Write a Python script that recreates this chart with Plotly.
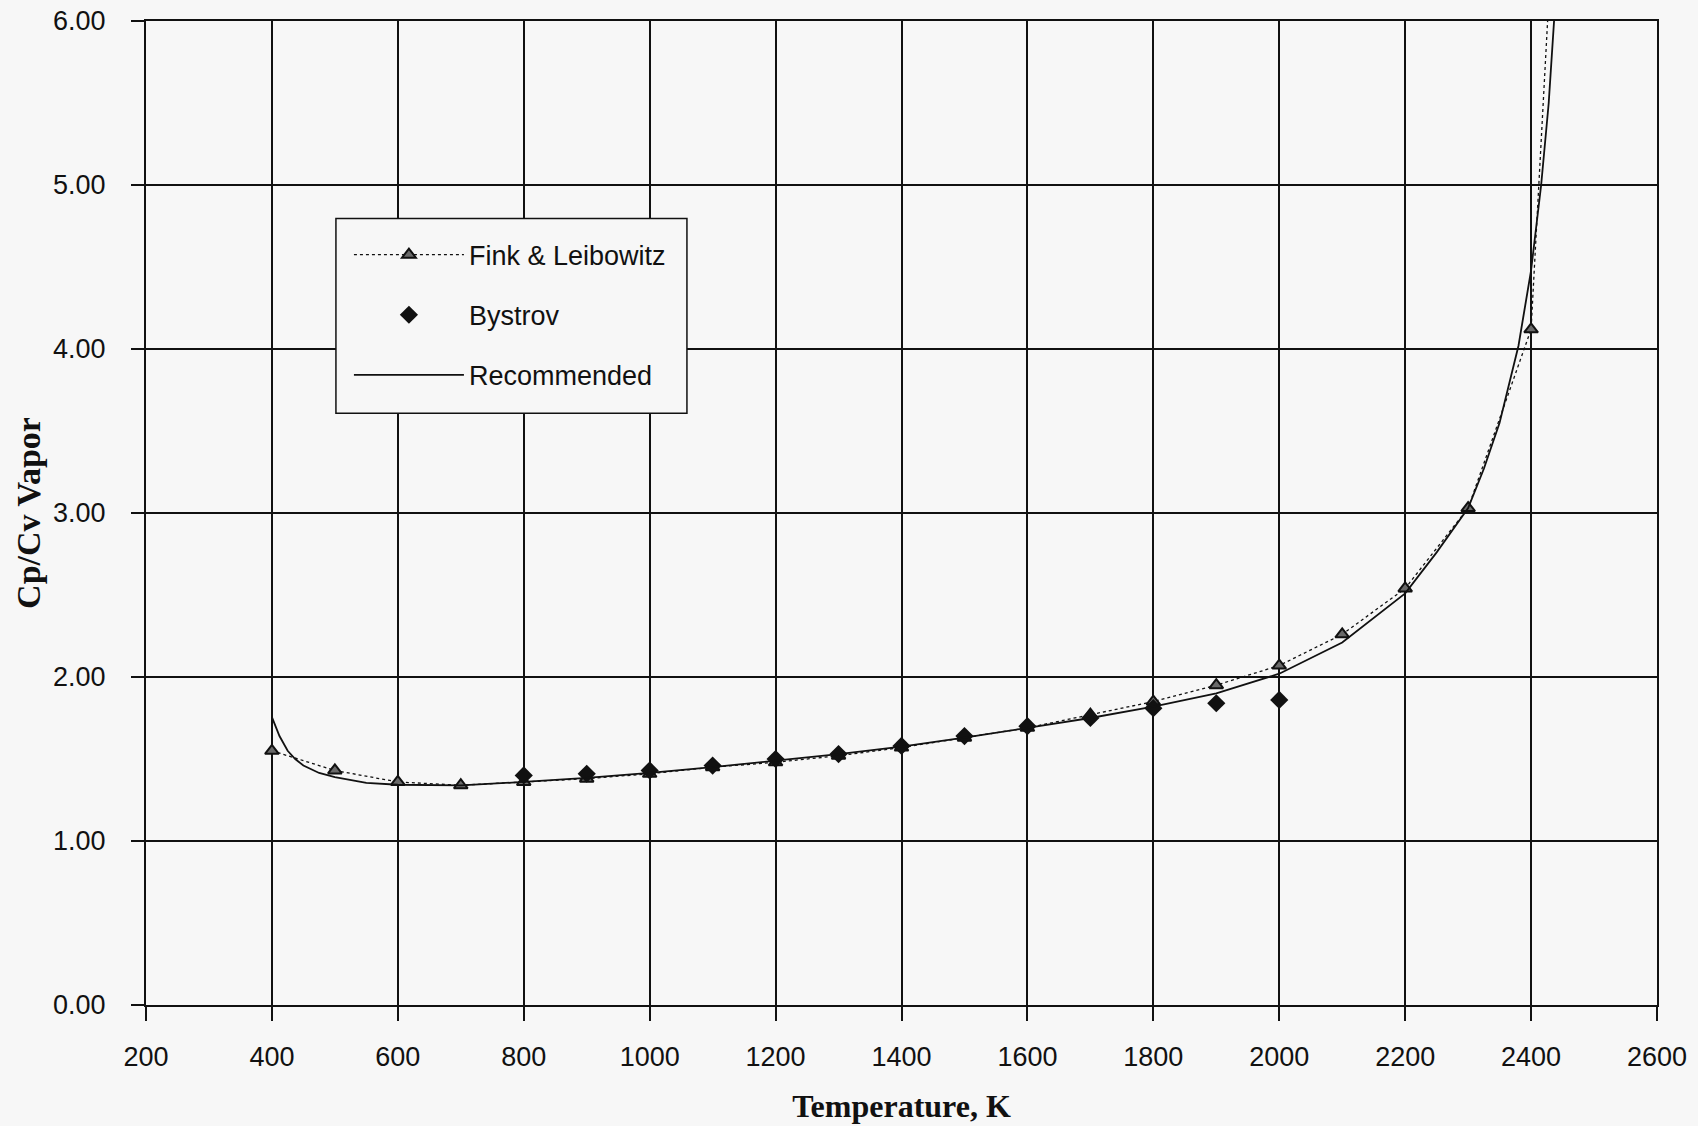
import plotly.graph_objects as go

# ---- data ----
fink_T = [400, 500, 600, 700, 800, 900, 1000, 1100, 1200, 1300, 1400, 1500,
          1600, 1700, 1800, 1900, 2000, 2100, 2200, 2300, 2400, 2450]
fink_g = [1.55, 1.43, 1.36, 1.34, 1.36, 1.38, 1.41, 1.45, 1.48, 1.52, 1.57, 1.63,
          1.69, 1.77, 1.85, 1.95, 2.07, 2.26, 2.54, 3.03, 4.12, 7.7]

bys_T = [800, 900, 1000, 1100, 1200, 1300, 1400, 1500, 1600, 1700, 1800, 1900, 2000]
bys_g = [1.40, 1.41, 1.43, 1.46, 1.50, 1.53, 1.58, 1.64, 1.70, 1.75, 1.81, 1.84, 1.86]

rec_T = [400, 412, 425, 437, 450, 475, 500, 550, 600, 700, 800, 900, 1000, 1100, 1200,
         1300, 1400, 1500, 1600, 1700, 1800, 1900, 2000, 2100, 2200, 2250, 2300, 2325,
         2350, 2365, 2380, 2400, 2416, 2428, 2437, 2445]
rec_g = [1.755, 1.64, 1.55, 1.50, 1.46, 1.415, 1.39, 1.355, 1.343, 1.339, 1.36, 1.385,
         1.415, 1.45, 1.49, 1.53, 1.575, 1.63, 1.69, 1.75, 1.82, 1.90, 2.02, 2.21, 2.51,
         2.76, 3.03, 3.27, 3.55, 3.78, 4.02, 4.48, 5.0, 5.5, 6.0, 6.5]

x_ticks = list(range(200, 2601, 200))
y_ticks = [0, 1, 2, 3, 4, 5, 6]

BG = "#f7f7f7"
INK = "#111111"

fig = go.Figure()
fig.add_trace(go.Scatter(
    x=fink_T, y=fink_g, name="Fink & Leibowitz", mode="lines+markers",
    legendgroup="a",
    line=dict(color=INK, width=1.3, dash="dot"),
    marker=dict(symbol="triangle-up", size=12, color="#6a6a6a",
                line=dict(color=INK, width=2)),
))
fig.add_trace(go.Scatter(
    x=bys_T, y=bys_g, name="Bystrov", mode="markers",
    legendgroup="b",
    marker=dict(symbol="diamond", size=14, color=INK, line=dict(width=0)),
))
fig.add_trace(go.Scatter(
    x=rec_T, y=rec_g, name="Recommended", mode="lines",
    legendgroup="c",
    line=dict(color=INK, width=1.8),
))

sans = "Liberation Sans, Arial, sans-serif"
serif = "Liberation Serif, Times New Roman, serif"
tick_font = dict(family=sans, size=27, color=INK)

# legend frame (drawn as a box in paper coordinates)
fig.add_shape(type="rect", xref="paper", yref="paper",
              x0=0.1257, x1=0.358, y0=0.6013, y1=0.7994,
              fillcolor=BG, line=dict(color=INK, width=1.5), layer="above")

fig.update_layout(
    width=1698, height=1126,
    margin=dict(l=146, r=41, t=21, b=121, autoexpand=False),
    paper_bgcolor=BG, plot_bgcolor=BG,
    showlegend=True,
    legend=dict(
        x=0.1343, y=0.787, xanchor="left", yanchor="top",
        bgcolor="rgba(0,0,0,0)", borderwidth=0,
        font=dict(family=sans, size=27, color=INK),
        tracegroupgap=22, itemwidth=110,
    ),
    xaxis=dict(
        range=[200, 2600], tickmode="array", tickvals=x_ticks,
        ticktext=[str(v) for v in x_ticks], automargin=False,
        showgrid=True, gridcolor=INK, gridwidth=1.5,
        showline=True, linecolor=INK, linewidth=2, mirror=True,
        ticks="outside", ticklen=14, tickwidth=1.5, tickcolor=INK,
        tickfont=tick_font, ticklabelstandoff=13, zeroline=False,
        title=dict(text="<b>Temperature, K</b>",
                   font=dict(family=serif, size=32, color=INK), standoff=23),
    ),
    yaxis=dict(
        range=[0, 6], tickmode="array", tickvals=y_ticks,
        ticktext=[f"{v:.2f}" for v in y_ticks], automargin=False,
        showgrid=True, gridcolor=INK, gridwidth=1.5,
        showline=True, linecolor=INK, linewidth=2, mirror=True,
        ticks="outside", ticklen=13, tickwidth=1.5, tickcolor=INK,
        tickfont=tick_font, ticklabelstandoff=20, zeroline=False,
        title=dict(text="<b>Cp/Cv Vapor</b>",
                   font=dict(family=serif, size=34, color=INK), standoff=2),
    ),
)

fig.write_html(
    "out.html",
    config={"displayModeBar": False},
    post_script="document.body.style.margin='0';"
                "document.body.style.background='" + BG + "';",
)
